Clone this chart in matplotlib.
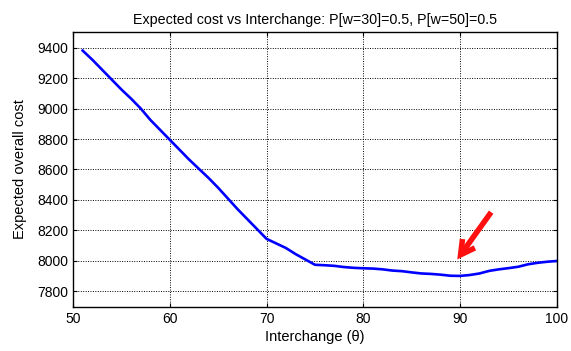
import matplotlib
matplotlib.use("Agg")
import matplotlib.pyplot as plt

plt.rcParams['font.family'] = ['Liberation Sans', 'DejaVu Sans']

theta = list(range(51, 101))
cost = [9380, 9320, 9255, 9190, 9125, 9065, 9000, 8925, 8860, 8795,
        8730, 8665, 8605, 8545, 8480, 8410, 8340, 8275, 8210, 8145,
        8115, 8085, 8045, 8010, 7975, 7972, 7968, 7960, 7955, 7952,
        7950, 7945, 7937, 7933, 7925, 7918, 7915, 7910, 7903, 7902,
        7908, 7918, 7935, 7945, 7953, 7962, 7978, 7988, 7995, 8000]
xticks = [50, 60, 70, 80, 90, 100]
yticks = [7800, 8000, 8200, 8400, 8600, 8800, 9000, 9200, 9400]
arrow_tip = (89.7, 8010)
arrow_tail = (93.2, 8320)

fig = plt.figure(figsize=(5.71, 3.51), dpi=100)
ax = fig.add_axes([0.1278, 0.1262, 0.8476, 0.7818])
ax.plot(theta, cost, color='#0000ff', lw=1.9)
ax.set_xlim(50, 100)
ax.set_ylim(7700, 9500)
ax.set_xticks(xticks)
ax.set_yticks(yticks)
ax.grid(True, color='black', linestyle=(0, (1, 1.5)), lw=0.7)
ax.tick_params(direction='in', top=True, right=True, labelsize=10, length=3, width=0.8)
for s in ax.spines.values():
    s.set_linewidth(1.0)
ax.set_xlabel('Interchange (θ)', fontsize=10.5, labelpad=3)
ax.set_ylabel('Expected overall cost', fontsize=10.5, labelpad=7)
ax.set_title('Expected cost vs Interchange: P[w=30]=0.5, P[w=50]=0.5', fontsize=10.3, pad=6)
ax.annotate('', xy=arrow_tip, xytext=arrow_tail,
            arrowprops=dict(arrowstyle='->,head_length=1.0,head_width=0.55',
                            color='#ff1010', lw=4, shrinkA=0, shrinkB=0,
                            joinstyle='miter', capstyle='butt'))
fig.savefig('out.png', dpi=100)
